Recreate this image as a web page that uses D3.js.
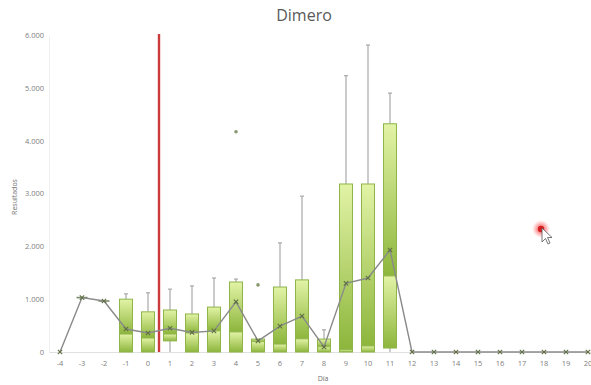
<!DOCTYPE html>
<html>
<head>
<meta charset="utf-8">
<script src="https://cdn.jsdelivr.net/npm/d3@7"></script>
<style>
  html, body { margin: 0; padding: 0; background: #fff; }
  svg { display: block; }
  text { font-family: "Open Sans", "Liberation Sans", sans-serif; }
</style>
</head>
<body>
<svg id="chart" width="591" height="385"></svg>
<script>
// Days relative to the event (day 0)
const days = [-4,-3,-2,-1,0,1,2,3,4,5,6,7,8,9,10,11,12,13,14,15,16,17,18,19,20];
// Five-number summaries per day (collapsed where only one value exists)
const whiskerLow  = [0,1030,965,0,0,0,0,0,0,0,0,0,0,0,0,0,0,0,0,0,0,0,0,0,0];
const quartile1   = [0,1030,965,0,0,210,0,0,0,0,0,0,0,0,0,75,0,0,0,0,0,0,0,0,0];
const medians     = [0,1030,965,340,265,340,360,400,380,200,150,250,100,50,115,1440,0,0,0,0,0,0,0,0,0];
const quartile3   = [0,1030,965,1000,760,795,720,850,1325,245,1230,1365,245,3180,3180,4320,0,0,0,0,0,0,0,0,0];
const whiskerHigh = [0,1030,965,1100,1120,1190,1250,1400,1380,245,2065,2950,420,5230,5810,4900,0,0,0,0,0,0,0,0,0];
const means       = [0,1030,965,435,360,450,370,400,950,210,490,680,95,1300,1400,1930,0,0,0,0,0,0,0,0,0];
// Outliers beyond the whiskers
const outlierDays   = [4, 5];
const outlierValues = [4170, 1270];
// Axis ticks
const yTicks = [0,1000,2000,3000,4000,5000,6000];
const eventDay = 0;

const svg = d3.select("#chart");
const x = d3.scaleBand().domain(days).range([49, 599]).padding(0);
const y = d3.scaleLinear().domain([0, 6000]).range([352, 35]);
const cx = d => x(d) + x.bandwidth() / 2;
const boxW = 13;

const locale = d3.formatLocale({decimal: ",", thousands: ".", grouping: [3], currency: ["", ""]});
const fmt = locale.format(",d");

// Gradient for box segments (light on top, deeper green at the bottom)
const defs = svg.append("defs");
const grad = defs.append("linearGradient").attr("id", "boxGrad")
  .attr("x1", 0).attr("y1", 0).attr("x2", 0).attr("y2", 1);
grad.append("stop").attr("offset", "0%").attr("stop-color", "#e2f3a6");
grad.append("stop").attr("offset", "100%").attr("stop-color", "#8db63c");

const glow = defs.append("radialGradient").attr("id", "glow");
glow.append("stop").attr("offset", "0%").attr("stop-color", "#ff3030").attr("stop-opacity", 0.9);
glow.append("stop").attr("offset", "55%").attr("stop-color", "#ff5050").attr("stop-opacity", 0.45);
glow.append("stop").attr("offset", "100%").attr("stop-color", "#ff8080").attr("stop-opacity", 0);

// Title
svg.append("text").attr("x", 304).attr("y", 21).attr("text-anchor", "middle")
  .attr("font-size", 16).attr("fill", "#595959").text("Dimero");

// Y axis
const yAxis = svg.append("g").attr("transform", "translate(49,0)")
  .call(d3.axisLeft(y).tickValues(yTicks).tickFormat(fmt).tickSize(0).tickPadding(5));
yAxis.select(".domain").attr("stroke", "#f0f0f0");
yAxis.selectAll("text").attr("font-size", 7.5).attr("fill", "#808080")
  .attr("font-family", "'Open Sans', sans-serif");

// X axis
const xAxis = svg.append("g").attr("transform", "translate(0,352)")
  .call(d3.axisBottom(x).tickSize(0).tickPadding(9));
xAxis.select(".domain").attr("stroke", "#e0e0e0");
xAxis.selectAll("text").attr("font-size", 7.5).attr("fill", "#808080")
  .attr("font-family", "'Open Sans', sans-serif");

// Axis titles
svg.append("text").attr("transform", "translate(17,197) rotate(-90)")
  .attr("text-anchor", "middle").attr("font-size", 7).attr("fill", "#707070").text("Resultados");
svg.append("text").attr("x", 323).attr("y", 381).attr("text-anchor", "middle")
  .attr("font-size", 7).attr("fill", "#707070").text("Día");

const data = days.map((d, i) => ({
  day: d, lo: whiskerLow[i], q1: quartile1[i], med: medians[i],
  q3: quartile3[i], hi: whiskerHigh[i], mean: means[i]
}));
const boxes = data.filter(d => d.q3 - d.q1 > 0);
const flat = data.filter(d => d.q3 - d.q1 === 0 && d.q3 > 0);

// Whiskers
const wg = svg.append("g").attr("stroke", "#a8a8a8").attr("stroke-width", 1.2);
boxes.forEach(d => {
  if (d.hi > d.q3) {
    wg.append("line").attr("x1", cx(d.day)).attr("x2", cx(d.day)).attr("y1", y(d.q3)).attr("y2", y(d.hi));
    wg.append("line").attr("x1", cx(d.day) - 2).attr("x2", cx(d.day) + 2).attr("y1", y(d.hi)).attr("y2", y(d.hi));
  }
  if (d.lo < d.q1) {
    wg.append("line").attr("x1", cx(d.day)).attr("x2", cx(d.day)).attr("y1", y(d.q1)).attr("y2", y(d.lo));
  }
});

// Boxes: upper (median to Q3) and lower (Q1 to median) segments
const bg = svg.append("g");
boxes.forEach(d => {
  const segs = [[d.med, d.q3], [d.q1, d.med]];
  segs.forEach(([a, b]) => {
    if (b - a <= 0) return;
    bg.append("rect")
      .attr("x", cx(d.day) - boxW / 2).attr("width", boxW)
      .attr("y", y(b)).attr("height", y(a) - y(b))
      .attr("fill", "url(#boxGrad)")
      .attr("stroke", "#8fb54a").attr("stroke-width", 1);
  });
});

// Collapsed boxes (single observation)
svg.append("g").selectAll("line").data(flat).join("line")
  .attr("x1", d => cx(d.day) - boxW / 2 + 1).attr("x2", d => cx(d.day) + boxW / 2 - 1)
  .attr("y1", d => y(d.q3)).attr("y2", d => y(d.q3))
  .attr("stroke", "#7d8a6a").attr("stroke-width", 1.6);

// Outliers
svg.append("g").selectAll("circle").data(outlierDays).join("circle")
  .attr("cx", d => cx(d)).attr("cy", (d, i) => y(outlierValues[i]))
  .attr("r", 1.8).attr("fill", "#8a9a70");

// Event marker at day 0
svg.append("line")
  .attr("x1", x(eventDay) + x.bandwidth()).attr("x2", x(eventDay) + x.bandwidth())
  .attr("y1", y(6000) - 1).attr("y2", y(0))
  .attr("stroke", "#cc3b3b").attr("stroke-width", 2.4);

// Mean line and markers
const line = d3.line().x(d => cx(d.day)).y(d => y(d.mean));
svg.append("path").datum(data).attr("d", line)
  .attr("fill", "none").attr("stroke", "#8a8a8a").attr("stroke-width", 1.4);
const mg = svg.append("g").attr("stroke", "#5f6f45").attr("stroke-width", 1.1);
data.forEach(d => {
  const px = cx(d.day), py = y(d.mean), s = 2.2;
  mg.append("line").attr("x1", px - s).attr("x2", px + s).attr("y1", py - s).attr("y2", py + s);
  mg.append("line").attr("x1", px - s).attr("x2", px + s).attr("y1", py + s).attr("y2", py - s);
});

// Pointer highlight
svg.append("circle").attr("cx", 541).attr("cy", 229).attr("r", 9).attr("fill", "url(#glow)");
svg.append("circle").attr("cx", 541).attr("cy", 229).attr("r", 3.2).attr("fill", "#d42020");
svg.append("path")
  .attr("d", "M542,228 L542,242 L545.5,238.5 L548,244 L550,243 L547.5,237.5 L552,237.5 Z")
  .attr("fill", "#fff").attr("stroke", "#555").attr("stroke-width", 0.8);
</script>
</body>
</html>
